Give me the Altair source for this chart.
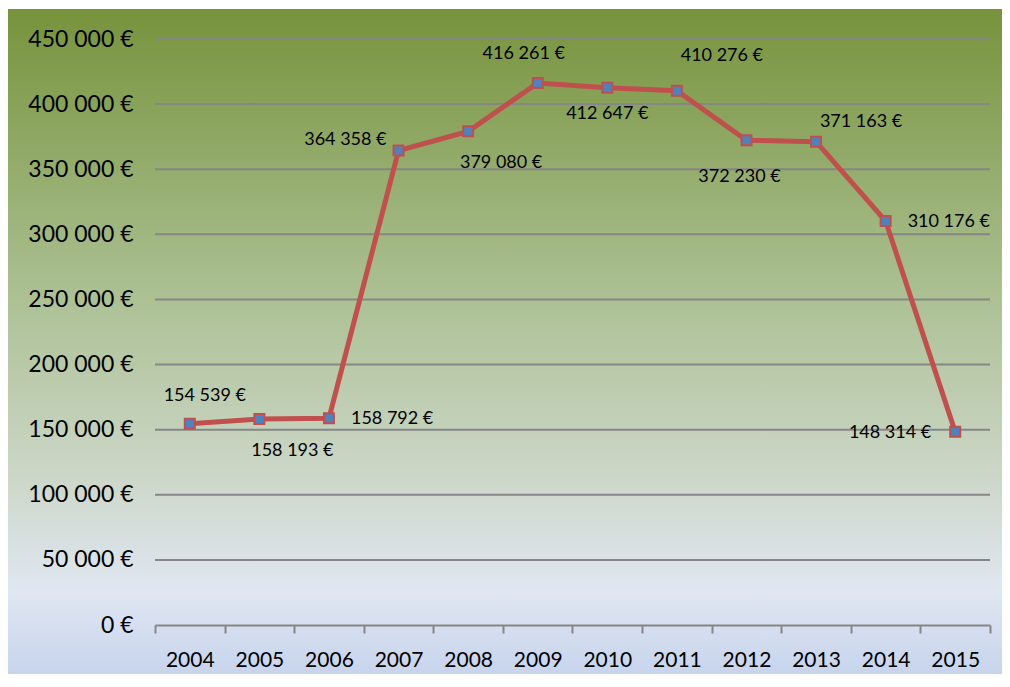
import altair as alt
import pandas as pd

years = ["2004", "2005", "2006", "2007", "2008", "2009", "2010", "2011", "2012", "2013", "2014", "2015"]
values = [154539, 158193, 158792, 364358, 379080, 416261, 412647, 410276, 372230, 371163, 310176, 148314]
label_texts = ["154 539 €", "158 193 €", "158 792 €", "364 358 €", "379 080 €", "416 261 €",
               "412 647 €", "410 276 €", "372 230 €", "371 163 €", "310 176 €", "148 314 €"]
label_side = ["above_r", "below_r", "right", "left_up", "below_r", "above",
              "below", "above_rr_hi", "below_lo", "above_rr", "right", "left"]
y_ticks = [0, 50000, 100000, 150000, 200000, 250000, 300000, 350000, 400000, 450000]

df = pd.DataFrame({"year": years, "value": values, "label": label_texts, "side": label_side})
grid_df = pd.DataFrame({"value": y_ticks[1:]})

W, H = 835, 586
PL, PT, PR, PB = 147, 31, 12, 49
FONT = "Lato"

x_scale = alt.Scale(type="band", paddingInner=0, paddingOuter=0, domain=years)
y_scale = alt.Scale(domain=[0, 450000], nice=False)

x_enc = alt.X("year:N", sort=years, bandPosition=0.5, scale=x_scale,
              axis=alt.Axis(title=None, labelAngle=0, labelFontSize=21, labelColor="#000000",
                            labelFont=FONT, labelPadding=16, tickBand="extent", tickSize=8,
                            tickColor="#868686", tickWidth=2, domainColor="#868686",
                            domainWidth=2, grid=False, zindex=1))
y_axis = alt.Axis(title=None, values=y_ticks,
                  labelExpr="datum.value == 0 ? '0 €' : replace(format(datum.value, ',.0f'), /,/g, ' ') + ' €'",
                  labelFontSize=23, labelFont=FONT, labelColor="#000000", labelPadding=22,
                  ticks=False, domain=False, grid=False, zindex=1)
y_enc = alt.Y("value:Q", scale=y_scale, axis=y_axis)

bg = alt.Chart(df).mark_rect(
    color=alt.LinearGradient(
        gradient="linear", x1=0, x2=0, y1=0, y2=1,
        stops=[alt.GradientStop(color="#77933c", offset=0),
               alt.GradientStop(color="#adc195", offset=0.43),
               alt.GradientStop(color="#cbd6c6", offset=0.68),
               alt.GradientStop(color="#e0e7f2", offset=0.86),
               alt.GradientStop(color="#c3d1ec", offset=1)]),
).encode(x=alt.value(-PL - 2), x2=alt.value(W + PR), y=alt.value(-PT + 1), y2=alt.value(H + PB + 13))

grid = alt.Chart(grid_df).mark_rule(color="#868686", strokeWidth=2).encode(
    y=y_enc, x=alt.value(0), x2=alt.value(W))

base = alt.Chart(df)

line = base.mark_line(color="#c0504d", strokeWidth=5).encode(x=x_enc, y=y_enc)
pts = base.mark_point(shape="square", filled=True, fill="#4f81bd", stroke="#c0504d",
                      strokeWidth=2, size=100, opacity=1).encode(x=x_enc, y=y_enc)

def labels(side, dx, dy, align):
    return base.transform_filter(alt.datum.side == side).mark_text(
        fontSize=18, font=FONT, color="#000000", dx=dx, dy=dy, align=align, baseline="middle"
    ).encode(x=x_enc, y=y_enc, text="label:N")

lab = (labels("above", -14, -29, "center") + labels("above_r", 15, -28, "center") +
       labels("above_rr", 45, -20, "center") + labels("above_rr_hi", 45, -35, "center") +
       labels("below", 0, 26, "center") + labels("below_lo", -7, 37, "center") +
       labels("below_r", 33, 32, "center") +
       labels("right", 22, 1, "left") + labels("left_up", -12, -11, "right") +
       labels("left", -24, 1, "right"))

chart = alt.layer(bg, grid, line, pts, lab).properties(
    width=W, height=H,
    autosize=alt.AutoSizeParams(type="none"),
    padding={"left": PL, "top": PT, "right": PR, "bottom": PB},
).configure_view(stroke=None).configure(background="white")

chart.save("out.html", embed_options={"renderer": "svg", "actions": False})
